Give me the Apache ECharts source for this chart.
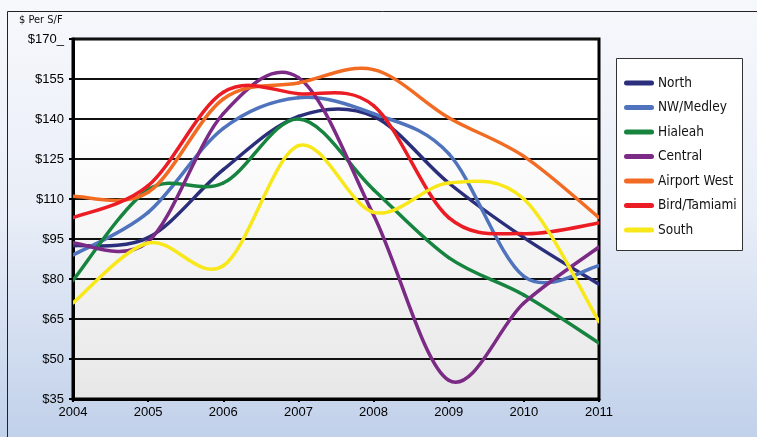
<!DOCTYPE html>
<html>
<head>
<meta charset="utf-8">
<title>$ Per S/F</title>
<script src="https://cdn.jsdelivr.net/npm/echarts@6/dist/echarts.min.js"></script>
<style>
  html, body { margin: 0; padding: 0; }
  #chart { width: 757px; height: 437px; }
</style>
</head>
<body>
<div id="chart"></div>
<script>
// values, one per year
const years = ['2004', '2005', '2006', '2007', '2008', '2009', '2010', '2011']
const north = [92.5, 95.5, 121, 141, 141, 116, 95.5, 78]
const nwMedley = [89, 105, 136.5, 148, 142, 127, 81, 85]
const hialeah = [79.5, 113.5, 116, 140, 113.5, 88, 74, 56]
const central = [93.5, 94, 142, 155.5, 104, 42, 71, 92]
const airportWest = [111, 112.5, 147.5, 153.5, 158.5, 140.5, 126, 103]
const birdTamiami = [103, 115, 150, 149.5, 145, 103, 97, 101]
const south = [71, 93.5, 85, 130, 105, 116, 110, 64]

const seriesNames = ['North', 'NW/Medley', 'Hialeah', 'Central', 'Airport West', 'Bird/Tamiami', 'South']
const seriesValues = [north, nwMedley, hialeah, central, airportWest, birdTamiami, south]
const seriesColors = ['#2b2f7b', '#4f73bd', '#16843f', '#7b2a85', '#f26b23', '#ec1c24', '#f8e81a']

const yMin = 35
const yMax = 170
const yStep = 15

const capsule = 'path://M2.5,0H27.5A2.5,2.5,0,0,1,27.5,5H2.5A2.5,2.5,0,0,1,2.5,0Z'
const labelFont = '"Liberation Sans", Arial, sans-serif'
const narrowFont = '"Liberation Sans Narrow", "DejaVu Sans Condensed", sans-serif'

// excel style smoothed line: each item draws the curve to the next point
function smoothSegment(values, color) {
  return function (params, api) {
    const i = params.dataIndex
    const n = values.length
    if (i >= n - 1) return null
    const pt = k => api.coord([Math.max(0, Math.min(n - 1, k)), values[Math.max(0, Math.min(n - 1, k))]])
    const p0 = pt(i - 1)
    const p1 = pt(i)
    const p2 = pt(i + 1)
    const p3 = pt(i + 2)
    return {
      type: 'bezierCurve',
      shape: {
        x1: p1[0], y1: p1[1],
        x2: p2[0], y2: p2[1],
        cpx1: p1[0] + (p2[0] - p0[0]) / 6,
        cpy1: p1[1] + (p2[1] - p0[1]) / 6,
        cpx2: p2[0] - (p3[0] - p1[0]) / 6,
        cpy2: p2[1] - (p3[1] - p1[1]) / 6
      },
      style: { stroke: color, lineWidth: 3.5, fill: null, lineCap: 'round' }
    }
  }
}

const chart = echarts.init(document.getElementById('chart'), null, { renderer: 'canvas' })

chart.setOption({
  animation: false,
  backgroundColor: new echarts.graphic.LinearGradient(0, 0, 0, 1, [
    { offset: 0, color: '#f7f8fc' },
    { offset: 0.5, color: '#e8edf7' },
    { offset: 1, color: '#c1d1ea' }
  ]),
  graphic: [
    { // outer frame
      type: 'rect',
      shape: { x: 7.5, y: 11.5, width: 800, height: 500 },
      style: { fill: 'transparent', stroke: '#222', lineWidth: 1 },
      z: -1
    },
    { // legend box
      type: 'rect',
      shape: { x: 616.5, y: 58.5, width: 126, height: 192 },
      style: { fill: '#fff', stroke: '#333', lineWidth: 1 },
      z: -1
    },
    {
      type: 'text',
      left: 19,
      top: 15,
      style: { text: '$ Per S/F', fontSize: 11, fontFamily: narrowFont, fill: '#111' }
    }
  ],
  legend: {
    orient: 'vertical',
    left: 624,
    top: 75,
    padding: 0,
    itemWidth: 30,
    itemHeight: 5,
    itemGap: 8.5,
    icon: capsule,
    data: seriesNames,
    textStyle: { fontFamily: narrowFont, fontSize: 13.5, color: '#111', lineHeight: 16, padding: [0, 0, 0, -1] }
  },
  grid: {
    left: 73,
    right: 158,
    top: 39,
    bottom: 38,
    show: true,
    borderColor: '#000',
    borderWidth: 3,
    backgroundColor: new echarts.graphic.LinearGradient(0, 0, 0, 1, [
      { offset: 0, color: '#ffffff' },
      { offset: 0.25, color: '#ffffff' },
      { offset: 1, color: '#e7e7e7' }
    ])
  },
  xAxis: {
    type: 'category',
    data: years,
    boundaryGap: false,
    axisLine: { lineStyle: { color: '#000', width: 3 } },
    axisTick: { length: 3, lineStyle: { color: '#000', width: 2 } },
    axisLabel: { color: '#000', fontSize: 13, fontFamily: labelFont, margin: 7 },
    splitLine: { show: false }
  },
  yAxis: {
    type: 'value',
    min: yMin,
    max: yMax,
    interval: yStep,
    axisLine: { show: true, lineStyle: { color: '#000', width: 3 } },
    axisTick: { show: true, length: 4, lineStyle: { color: '#000', width: 2 } },
    axisLabel: {
      color: '#000',
      fontSize: 13,
      fontFamily: labelFont,
      margin: 9,
      formatter: v => (v === yMax ? '$' + v + '_' : '$' + v)
    },
    splitLine: { lineStyle: { color: '#111', width: 2 } }
  },
  series: seriesNames.map((name, i) => ({
    name: name,
    type: 'custom',
    coordinateSystem: 'cartesian2d',
    data: seriesValues[i].map((v, k) => [k, v]),
    encode: { x: 0, y: 1 },
    itemStyle: { color: seriesColors[i] },
    clip: true,
    renderItem: smoothSegment(seriesValues[i], seriesColors[i])
  }))
})
</script>
</body>
</html>
